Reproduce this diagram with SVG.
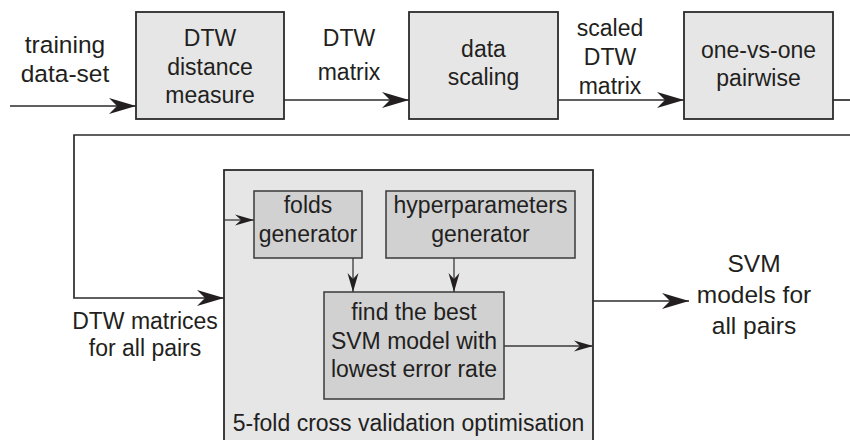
<svg xmlns="http://www.w3.org/2000/svg" width="850" height="440" viewBox="0 0 850 440">
<defs>
<style>
text{font-family:"Liberation Sans",Arial,Helvetica,sans-serif;fill:#231f20;text-anchor:middle}
.t{font-size:23px}
.tl{font-size:24.5px}
.box{fill:#e6e6e7;stroke:#2b2b2b;stroke-width:1.8}
.ibox{fill:#d1d1d2;stroke:#3a3a3a;stroke-width:1.5}
.ln{fill:none;stroke:#2b2b2b;stroke-width:1.7}
.lns{fill:none;stroke:#3a3a3a;stroke-width:1.3}
</style>
<marker id="big" markerUnits="userSpaceOnUse" viewBox="-27 -9 28 18" refX="0" refY="0" markerWidth="28" markerHeight="18" orient="auto">
<path d="M0,0 L-27,-8 L-19,0 L-27,8 Z" fill="#231f20"/>
</marker>
<marker id="small" markerUnits="userSpaceOnUse" viewBox="-20 -6 21 12" refX="0" refY="0" markerWidth="21" markerHeight="12" orient="auto">
<path d="M0,0 L-19,-5.5 L-13,0 L-19,5.5 Z" fill="#231f20"/>
</marker>
</defs>
<rect width="850" height="440" fill="#ffffff"/>

<g id="cv-box">
<rect class="box" x="224" y="170" width="369" height="280"/>
<text class="t" x="408.5" y="431">5-fold cross validation optimisation</text>
</g>

<g id="n-dtw">
<rect class="box" x="136" y="12" width="148" height="107"/>
<text class="t" x="210" y="46">DTW</text>
<text class="t" x="210" y="75">distance</text>
<text class="t" x="210" y="103">measure</text>
</g>

<g id="n-scaling">
<rect class="box" x="409" y="12" width="149" height="107"/>
<text class="t" x="483.5" y="57">data</text>
<text class="t" x="483.5" y="85">scaling</text>
</g>

<g id="n-pairwise">
<rect class="box" x="684" y="12" width="149" height="107"/>
<text class="t" x="758.5" y="58">one-vs-one</text>
<text class="t" x="758.5" y="86">pairwise</text>
</g>

<g id="n-folds">
<rect class="ibox" x="254" y="191" width="108" height="67"/>
<text class="t" x="308" y="213">folds</text>
<text class="t" x="308" y="242">generator</text>
</g>

<g id="n-hyper">
<rect class="ibox" x="386" y="191" width="189" height="67"/>
<text class="t" x="480.5" y="213">hyperparameters</text>
<text class="t" x="480.5" y="242">generator</text>
</g>

<g id="n-find">
<rect class="ibox" x="324" y="292" width="180" height="107"/>
<text class="t" x="414" y="320">find the best</text>
<text class="t" x="414" y="349">SVM model with</text>
<text class="t" x="414" y="377">lowest error rate</text>
</g>

<g id="labels">
<text class="tl" x="65" y="53">training</text>
<text class="tl" x="65" y="82">data-set</text>
<text class="t" x="349" y="46">DTW</text>
<text class="t" x="349" y="80">matrix</text>
<text class="t" x="610" y="36">scaled</text>
<text class="t" x="610" y="65">DTW</text>
<text class="t" x="610" y="94">matrix</text>
<text class="t" x="145" y="329">DTW matrices</text>
<text class="t" x="145" y="356">for all pairs</text>
<text class="tl" x="754" y="272">SVM</text>
<text class="tl" x="754" y="303">models for</text>
<text class="tl" x="754" y="334">all pairs</text>
</g>

<g id="connectors">
<line class="ln" x1="10" y1="106" x2="136" y2="106" marker-end="url(#big)"/>
<line class="ln" x1="284" y1="100" x2="409" y2="100" marker-end="url(#big)"/>
<line class="ln" x1="558" y1="100" x2="684" y2="100" marker-end="url(#big)"/>
<line class="ln" x1="833" y1="100" x2="852" y2="100"/>
<polyline class="ln" points="852,135 74,135 74,298 224,298" marker-end="url(#big)"/>
<line class="lns" x1="224" y1="220" x2="254" y2="220" marker-end="url(#small)"/>
<line class="lns" x1="353" y1="258" x2="353" y2="292" marker-end="url(#small)"/>
<line class="lns" x1="454" y1="258" x2="454" y2="292" marker-end="url(#small)"/>
<line class="lns" x1="504" y1="346" x2="593" y2="346" marker-end="url(#small)"/>
<line class="ln" x1="593" y1="301" x2="689" y2="301" marker-end="url(#big)"/>
</g>
</svg>
